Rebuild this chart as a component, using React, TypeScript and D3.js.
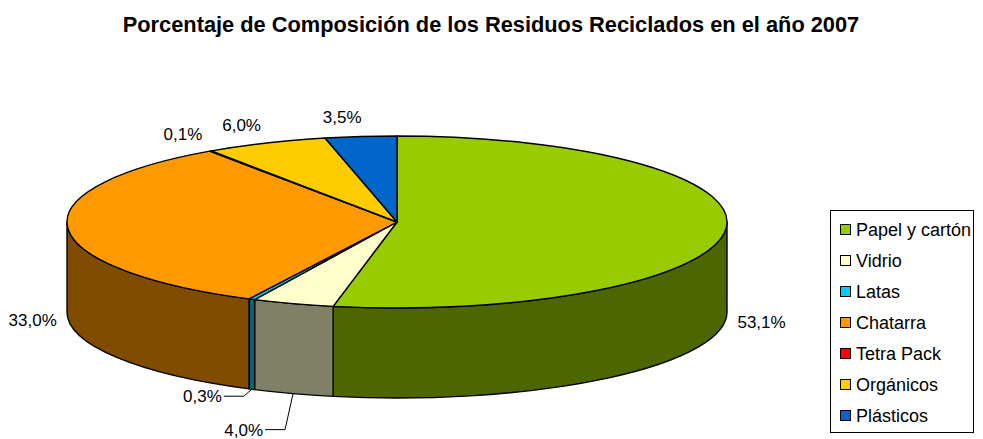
import * as d3 from 'd3'

const categories = ['Papel y cartón', 'Vidrio', 'Latas', 'Chatarra', 'Tetra Pack', 'Orgánicos', 'Plásticos']
const values = [53.1, 4.0, 0.3, 33.0, 0.1, 6.0, 3.5]
const colors = ['#99CC00', '#FFFFCC', '#00CCFF', '#FF9900', '#FF0000', '#FFCC00', '#0066CC']

const W = 983
const H = 439
const FONT = 'Arial, "Liberation Sans", sans-serif'

export default function App() {
  const cx = 397
  const cy = 222
  const rx = 330
  const ry = 86
  const depth = 90

  const pie = d3.pie<number>().sort(null).value((d) => d)
  const arcs = pie(values)

  // point on the top ellipse, angle clockwise from 12 o'clock (d3.pie convention)
  const pt = (a: number, dy = 0, ex = 0, ey = 0) => [
    cx + (rx + ex) * Math.sin(a),
    cy - (ry + ey) * Math.cos(a) + dy,
  ]

  const topPath = (a0: number, a1: number) => {
    const [x0, y0] = pt(a0)
    const [x1, y1] = pt(a1)
    const large = a1 - a0 > Math.PI ? 1 : 0
    return `M${cx},${cy}L${x0},${y0}A${rx},${ry} 0 ${large} 1 ${x1},${y1}Z`
  }

  const sidePath = (a0: number, a1: number) => {
    const [x0, y0] = pt(a0)
    const [x1, y1] = pt(a1)
    return `M${x0},${y0}A${rx},${ry} 0 0 1 ${x1},${y1}L${x1},${y1 + depth}A${rx},${ry} 0 0 0 ${x0},${y0 + depth}Z`
  }

  const sideColor = (c: string) => {
    const r = d3.rgb(c)
    return d3.rgb(r.r * 0.5, r.g * 0.5, r.b * 0.5).formatHex()
  }

  const fmt = (v: number) => v.toFixed(1).replace('.', ',') + '%'

  // small slices at the front get a leader line dropping down and to the left
  const leaderDrop: Record<number, number> = { 1: 36, 2: 7 }

  const labels = arcs.map((d, i) => {
    const mid = (d.startAngle + d.endAngle) / 2
    const text = fmt(values[i])
    if (leaderDrop[i] !== undefined) {
      const [ax, ay] = pt(mid, depth)
      const ex = ax - 8
      const ey = ay + leaderDrop[i]
      const tx = ex - 20
      return {
        text, x: tx - 2, y: ey, anchor: 'end',
        line: `M${ax},${ay}L${ex},${ey}L${tx},${ey}`,
      }
    }
    if (Math.cos(mid) > 0) {
      const [x, y] = pt(mid, 0, 20, 18)
      return { text, x: x + 3, y: y - 2, anchor: 'end', line: null }
    }
    const [x, y] = pt(mid, depth)
    const right = Math.sin(mid) > 0
    return { text, x: x + (right ? 12 : -11), y: y + 2, anchor: right ? 'start' : 'end', line: null }
  })

  const front0 = Math.PI / 2
  const front1 = (3 * Math.PI) / 2

  return (
    <svg width={W} height={H} style={{ position: 'absolute', left: 0, top: 0, background: '#fff' }} fontFamily={FONT}>
      <text x={491} y={31.5} textAnchor="middle" fontWeight="bold" fontSize={21.8} fill="#000">
        Porcentaje de Composición de los Residuos Reciclados en el año 2007
      </text>

      <g stroke="#000" strokeWidth={1.4} strokeLinejoin="round">
        {arcs.map((d, i) => {
          const s = Math.max(d.startAngle, front0)
          const e = Math.min(d.endAngle, front1)
          if (e <= s) return null
          return <path key={'s' + i} d={sidePath(s, e)} fill={sideColor(colors[i])} />
        })}
        {arcs.map((d, i) => (
          <path key={'t' + i} d={topPath(d.startAngle, d.endAngle)} fill={colors[i]} />
        ))}
      </g>

      <g fontSize={17} fill="#000">
        {labels.map((l, i) => (
          <g key={'l' + i}>
            {l.line && <path d={l.line} fill="none" stroke="#000" strokeWidth={1} />}
            <text x={l.x} y={l.y} dy="0.35em" textAnchor={l.anchor}>{l.text}</text>
          </g>
        ))}
      </g>

      <g>
        <rect x={830.5} y={210.5} width={143} height={222} fill="#fff" stroke="#000" strokeWidth={1} />
        {categories.map((c, i) => {
          const y = 230 + i * 31
          return (
            <g key={'g' + i}>
              <rect x={840.5} y={y - 5.5} width={10} height={10} fill={colors[i]} stroke="#000" strokeWidth={1} />
              <text x={856} y={y} dy="0.36em" fontSize={18} fill="#000">{c}</text>
            </g>
          )
        })}
      </g>
    </svg>
  )
}
